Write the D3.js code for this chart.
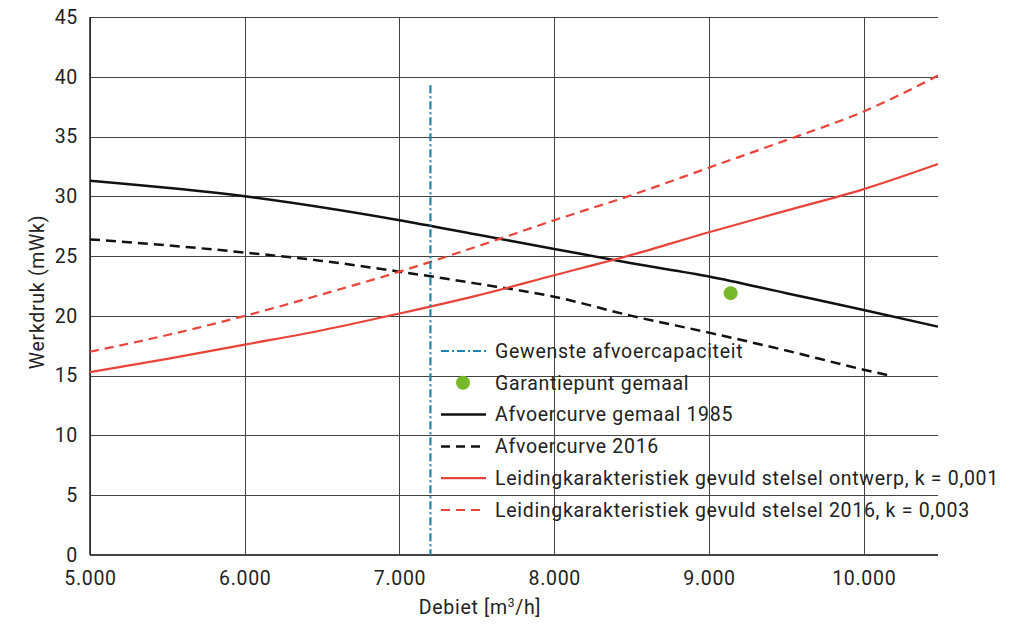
<!DOCTYPE html>
<html>
<head>
<meta charset="utf-8">
<script src="https://cdn.jsdelivr.net/npm/d3@7"></script>
<style>
  body { margin: 0; background: #fff; }
  svg text { font-family: Roboto, "DejaVu Sans", sans-serif; fill: #222; letter-spacing: 0.7px; }
</style>
</head>
<body>
<svg id="chart"></svg>
<script>
// Data
const afvoer1985 = [[5000, 31.3], [6000, 30.0], [7000, 28.0], [7500, 26.8], [8000, 25.6], [8500, 24.4], [9000, 23.3], [9500, 21.9], [10000, 20.5], [10480, 19.1]];
const afvoer2016 = [[5000, 26.4], [5500, 25.9], [6000, 25.3], [6500, 24.6], [7000, 23.7], [7500, 22.7], [8000, 21.6], [8500, 20.0], [9000, 18.6], [9500, 17.1], [10000, 15.5], [10170, 15.0]];
const leidingOntwerp = [[5000, 15.3], [5500, 16.4], [6000, 17.6], [6500, 18.8], [7000, 20.2], [7500, 21.7], [8000, 23.4], [8500, 25.1], [9000, 27.0], [9500, 28.8], [10000, 30.6], [10480, 32.7]];
const leiding2016 = [[5000, 17.0], [5500, 18.4], [6000, 20.0], [6500, 21.8], [7000, 23.7], [7500, 25.8], [8000, 28.0], [8500, 30.1], [9000, 32.4], [9500, 34.7], [10000, 37.1], [10480, 40.1]];
const gewenst = [[7200, 0], [7200, 39.3]];
const garantiepunt = [[9140, 21.9]];

const xTicks = [5000, 6000, 7000, 8000, 9000, 10000];
const yTicks = [0, 5, 10, 15, 20, 25, 30, 35, 40, 45];

const legendLabels = [
  "Gewenste afvoercapaciteit",
  "Garantiepunt gemaal",
  "Afvoercurve gemaal 1985",
  "Afvoercurve 2016",
  "Leidingkarakteristiek gevuld stelsel ontwerp, k = 0,001",
  "Leidingkarakteristiek gevuld stelsel 2016, k = 0,003"
];

// Dimensions
const width = 1017, height = 626;
const margin = { top: 17, right: 79, bottom: 71, left: 90 };
const fontSize = "19.5px";

const xScale = d3.scaleLinear()
  .domain([5000, 10480])
  .range([margin.left, width - margin.right]);

const yScale = d3.scaleLinear()
  .domain([0, 45])
  .range([height - margin.bottom, margin.top]);

const svg = d3.select("#chart")
  .attr("width", width)
  .attr("height", height);

const fmt = d => d3.format(",")(d).replace(",", ".");

// Horizontal grid
svg.append("g")
  .attr("class", "grid-y")
  .attr("transform", `translate(${margin.left},0)`)
  .call(d3.axisLeft(yScale).tickValues(yTicks).tickSize(-(width - margin.right - margin.left)).tickFormat(d => d).tickPadding(12))
  .call(g => g.select(".domain").remove())
  .call(g => g.selectAll(".tick line").attr("stroke", "#444").attr("shape-rendering", "crispEdges"))
  .call(g => g.selectAll(".tick text").style("font-size", fontSize));

// Vertical grid
svg.append("g")
  .attr("class", "grid-x")
  .attr("transform", `translate(0,${height - margin.bottom})`)
  .call(d3.axisBottom(xScale).tickValues(xTicks).tickSize(-(height - margin.bottom - margin.top)).tickFormat(fmt).tickPadding(16))
  .call(g => g.select(".domain").remove())
  .call(g => g.selectAll(".tick line").attr("stroke", "#444").attr("shape-rendering", "crispEdges"))
  .call(g => g.selectAll(".tick text").style("font-size", fontSize));

// Axis lines
svg.append("line")
  .attr("x1", xScale(5000)).attr("x2", xScale(5000))
  .attr("y1", yScale(0)).attr("y2", yScale(45))
  .attr("stroke", "#222").attr("stroke-width", 1.5);
svg.append("line")
  .attr("x1", xScale(5000)).attr("x2", xScale(10480))
  .attr("y1", yScale(0)).attr("y2", yScale(0))
  .attr("stroke", "#444").attr("stroke-width", 2);

// Axis titles
svg.append("text")
  .attr("x", 480)
  .attr("y", 614)
  .attr("text-anchor", "middle")
  .style("font-size", fontSize)
  .html('Debiet [m<tspan dy="-7" style="font-size:12px">3</tspan><tspan dy="7">/h]</tspan>');

svg.append("text")
  .attr("transform", "rotate(-90)")
  .attr("x", -292)
  .attr("y", 44)
  .attr("text-anchor", "middle")
  .style("font-size", fontSize)
  .text("Werkdruk (mWk)");

// Line generator
const line = d3.line()
  .x(d => xScale(d[0]))
  .y(d => yScale(d[1]))
  .curve(d3.curveMonotoneX);

const red = "#e8443a";
const blue = "#1a87aa";
const green = "#77b829";

const series = [
  { data: afvoer1985, color: "#111", width: 2.5, dash: null },
  { data: afvoer2016, color: "#111", width: 2.5, dash: "10,6" },
  { data: leidingOntwerp, color: red, width: 2.2, dash: null },
  { data: leiding2016, color: red, width: 2.2, dash: "9,6" }
];

svg.selectAll(".curve")
  .data(series)
  .enter().append("path")
  .attr("class", "curve")
  .attr("fill", "none")
  .attr("stroke", d => d.color)
  .attr("stroke-width", d => d.width)
  .attr("stroke-dasharray", d => d.dash)
  .attr("d", d => line(d.data));

// Desired capacity (dash-dot)
svg.append("path")
  .attr("fill", "none")
  .attr("stroke", blue)
  .attr("stroke-width", 2.2)
  .attr("stroke-dasharray", "8,3,2,3")
  .attr("d", d3.line().x(d => xScale(d[0])).y(d => yScale(d[1]))(gewenst.slice().reverse()));

// Guarantee point
svg.selectAll(".garantie")
  .data(garantiepunt)
  .enter().append("circle")
  .attr("class", "garantie")
  .attr("cx", d => xScale(d[0]))
  .attr("cy", d => yScale(d[1]))
  .attr("r", 7)
  .attr("fill", green);

// Legend
const legendItems = [
  { type: "line", color: blue, dash: "8,3,2,3", width: 2.2 },
  { type: "dot", color: green },
  { type: "line", color: "#111", dash: null, width: 2.5 },
  { type: "line", color: "#111", dash: "9,6", width: 2.5 },
  { type: "line", color: red, dash: null, width: 2.2 },
  { type: "line", color: red, dash: "9,6", width: 2.2 }
];

const legend = svg.append("g").attr("transform", "translate(441,351)");
const rows = legend.selectAll(".row")
  .data(legendItems)
  .enter().append("g")
  .attr("class", "row")
  .attr("transform", (d, i) => `translate(0,${i * 31.8})`);

rows.each(function(d, i) {
  const g = d3.select(this);
  if (d.type === "dot") {
    g.append("circle").attr("cx", 22).attr("cy", 0).attr("r", 7).attr("fill", d.color);
  } else {
    g.append("line")
      .attr("x1", 0).attr("x2", 45)
      .attr("y1", 0).attr("y2", 0)
      .attr("stroke", d.color)
      .attr("stroke-width", d.width)
      .attr("stroke-dasharray", d.dash);
  }
  g.append("text")
    .attr("x", 54)
    .attr("y", 0)
    .attr("dy", "0.35em")
    .style("font-size", fontSize)
    .text(legendLabels[i]);
});
</script>
</body>
</html>
